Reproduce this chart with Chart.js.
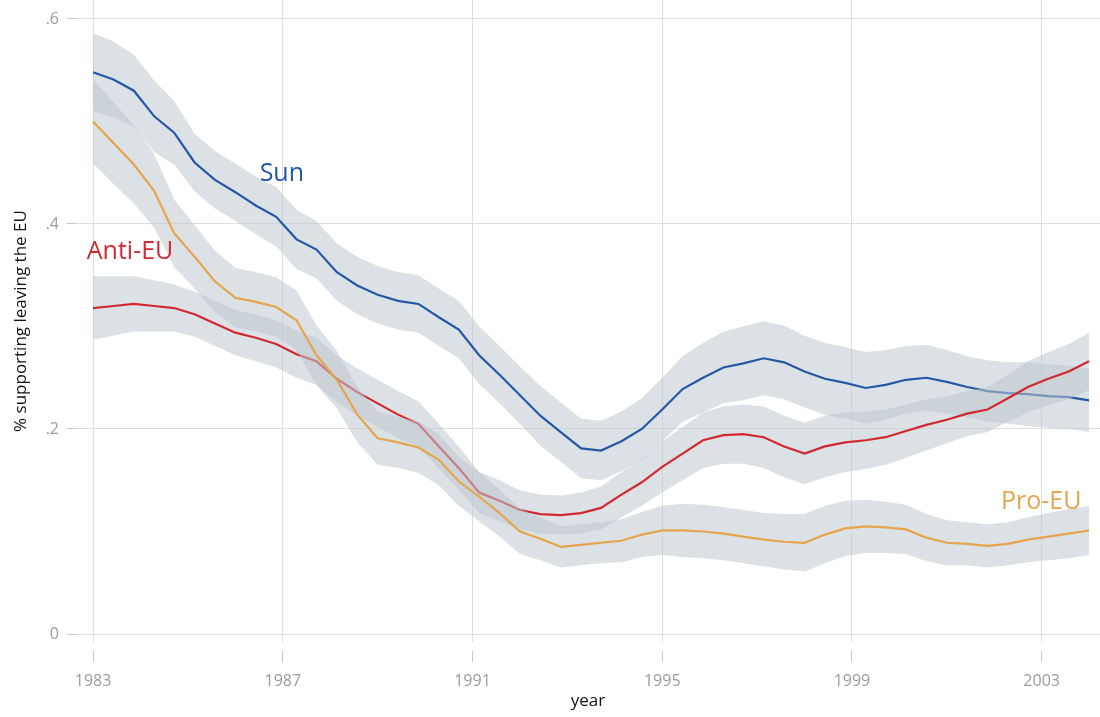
<!DOCTYPE html>
<html>
<head>
<meta charset="utf-8">
<script src="https://cdn.jsdelivr.net/npm/chart.js@4/dist/chart.umd.min.js"></script>
<style>
  html, body { margin:0; padding:0; background:#fff; }
  #wrap { width:1100px; height:717px; }
</style>
</head>
<body>
<div id="wrap"><canvas id="chart" width="1100" height="717"></canvas></div>
<script>
// survey waves (year)
const years = [1983.00,1983.43,1983.86,1984.29,1984.71,1985.14,1985.57,1986.00,1986.43,1986.86,
  1987.29,1987.71,1988.14,1988.57,1989.00,1989.43,1989.86,1990.29,1990.71,1991.14,
  1991.57,1992.00,1992.43,1992.86,1993.29,1993.71,1994.14,1994.57,1995.00,1995.43,
  1995.86,1996.29,1996.71,1997.14,1997.57,1998.00,1998.43,1998.86,1999.29,1999.71,
  2000.14,2000.57,2001.00,2001.43,2001.86,2002.29,2002.71,2003.14,2003.57,2004.00];

const sun = [0.548,0.541,0.530,0.505,0.489,0.460,0.443,0.431,0.418,0.407,
  0.385,0.375,0.353,0.340,0.331,0.325,0.322,0.309,0.297,0.272,
  0.253,0.233,0.213,0.197,0.181,0.179,0.188,0.200,0.219,0.239,
  0.250,0.260,0.264,0.269,0.265,0.256,0.249,0.245,0.240,0.243,
  0.248,0.250,0.246,0.241,0.237,0.235,0.234,0.232,0.231,0.228];
const sunCi = [0.038,0.037,0.035,0.035,0.031,0.028,0.028,0.028,0.028,0.029,
  0.029,0.028,0.028,0.028,0.028,0.028,0.028,0.028,0.028,0.028,
  0.028,0.028,0.029,0.029,0.029,0.029,0.029,0.030,0.031,0.032,
  0.034,0.035,0.036,0.036,0.036,0.035,0.035,0.035,0.035,0.034,
  0.033,0.032,0.031,0.030,0.030,0.030,0.031,0.031,0.031,0.031];

const antiEu = [0.318,0.320,0.322,0.320,0.318,0.312,0.303,0.294,0.289,0.283,
  0.273,0.266,0.249,0.236,0.225,0.214,0.205,0.183,0.162,0.138,
  0.130,0.121,0.117,0.116,0.118,0.123,0.136,0.148,0.163,0.176,
  0.189,0.194,0.195,0.192,0.183,0.176,0.183,0.187,0.189,0.192,
  0.198,0.204,0.209,0.215,0.219,0.230,0.241,0.249,0.256,0.266];
const antiEuCi = [0.031,0.029,0.027,0.025,0.023,0.022,0.022,0.022,0.023,0.023,
  0.023,0.023,0.023,0.023,0.023,0.023,0.022,0.022,0.021,0.020,
  0.020,0.019,0.019,0.019,0.020,0.021,0.022,0.023,0.025,0.026,
  0.027,0.028,0.029,0.030,0.030,0.030,0.030,0.029,0.028,0.027,
  0.026,0.025,0.023,0.022,0.022,0.023,0.025,0.026,0.027,0.028];

const proEu = [0.500,0.479,0.458,0.432,0.391,0.368,0.344,0.328,0.324,0.319,
  0.306,0.272,0.248,0.214,0.191,0.187,0.182,0.170,0.149,0.134,
  0.118,0.100,0.093,0.085,0.087,0.089,0.091,0.097,0.101,0.101,
  0.100,0.098,0.095,0.092,0.090,0.089,0.097,0.103,0.105,0.104,
  0.102,0.094,0.089,0.088,0.086,0.088,0.092,0.095,0.098,0.101];
const proEuCi = [0.041,0.040,0.038,0.036,0.033,0.031,0.030,0.029,0.029,0.029,
  0.029,0.029,0.028,0.027,0.026,0.025,0.025,0.025,0.024,0.024,
  0.023,0.022,0.021,0.020,0.020,0.020,0.021,0.022,0.024,0.026,
  0.026,0.026,0.026,0.026,0.027,0.028,0.028,0.027,0.026,0.025,
  0.024,0.023,0.022,0.021,0.021,0.021,0.022,0.023,0.024,0.024];

const xTicks = [1983, 1987, 1991, 1995, 1999, 2003];
const yTicks = [0, 0.2, 0.4, 0.6];

const BAND = "rgba(190,201,208,0.55)";
const FONT = "'Open Sans', 'Noto Sans', sans-serif";

// text labels placed at data coords
const seriesLabels = [
  { text: "Sun",     x: 1986.98, y: 0.449, color: "#2557a7" },
  { text: "Anti-EU", x: 1983.78, y: 0.373, color: "#d2292f" },
  { text: "Pro-EU",  x: 2002.99, y: 0.129, color: "#e6a54c" },
];

function series(vals, ci, color, order){
  const hi = years.map((x, i) => ({ x, y: vals[i] + ci[i] }));
  const lo = years.map((x, i) => ({ x, y: vals[i] - ci[i] }));
  const ln = years.map((x, i) => ({ x, y: vals[i] }));
  const bandDs = { borderWidth: 0, borderColor: "transparent", pointRadius: 0, backgroundColor: BAND };
  return [
    { ...bandDs, data: hi, fill: "+1", order: order + 1 },
    { ...bandDs, data: lo, fill: false, order: order + 1 },
    { data: ln, borderColor: color, borderWidth: 2.2, pointRadius: 0, fill: false, order },
  ];
}

const labelPlugin = {
  id: "seriesLabels",
  afterDatasetsDraw(chart){
    const { ctx, scales: { x, y } } = chart;
    ctx.save();
    ctx.font = `25px ${FONT}`;
    ctx.textAlign = "center";
    ctx.textBaseline = "middle";
    seriesLabels.forEach(l => {
      ctx.fillStyle = l.color;
      ctx.fillText(l.text, x.getPixelForValue(l.x), y.getPixelForValue(l.y));
    });
    ctx.restore();
  }
};

new Chart(document.getElementById("chart"), {
  type: "line",
  data: {
    datasets: [
      ...series(proEu, proEuCi, "#e6a54c", 0),
      ...series(antiEu, antiEuCi, "#d2292f", 2),
      ...series(sun, sunCi, "#2557a7", 4),
    ]
  },
  options: {
    responsive: false,
    animation: false,
    layout: { padding: 0 },
    plugins: { legend: { display: false }, tooltip: { enabled: false }, filler: { propagate: false } },
    elements: { line: { tension: 0 }, point: { radius: 0 } },
    scales: {
      x: {
        type: "linear", min: 1982.64, max: 2004.23,
        afterBuildTicks: s => { s.ticks = xTicks.map(v => ({ value: v })); },
        afterFit: s => { s.height = 75; s.paddingLeft = 0; s.paddingRight = 0; },
        border: { display: false },
        grid: { color: "#dedede", tickColor: "#c8c8c8", tickLength: 20, tickBorderDash: [0, 9, 11, 20] },
        ticks: { color: "#9b9b9b", font: { family: FONT, size: 16 }, padding: 10, maxRotation: 0, callback: v => String(v) },
        title: { display: true, text: "year", color: "#111", font: { family: FONT, size: 17 }, padding: { top: 0, bottom: 6 } }
      },
      y: {
        type: "linear", min: -0.0078, max: 0.6185,
        afterBuildTicks: s => { s.ticks = yTicks.map(v => ({ value: v })); },
        afterFit: s => { s.width = 76; s.paddingTop = 0; s.paddingBottom = 0; },
        border: { display: false },
        grid: { color: "#dedede", tickColor: "#c8c8c8", tickLength: 9 },
        ticks: { color: "#9b9b9b", font: { family: FONT, size: 16 }, padding: 8, callback: v => v === 0 ? "0" : "." + Math.round(v * 10) },
        title: { display: true, text: "% supporting leaving the EU", color: "#111", font: { family: FONT, size: 17 }, padding: { top: 11, bottom: 0 } }
      }
    }
  },
  plugins: [labelPlugin]
});
</script>
</body>
</html>
